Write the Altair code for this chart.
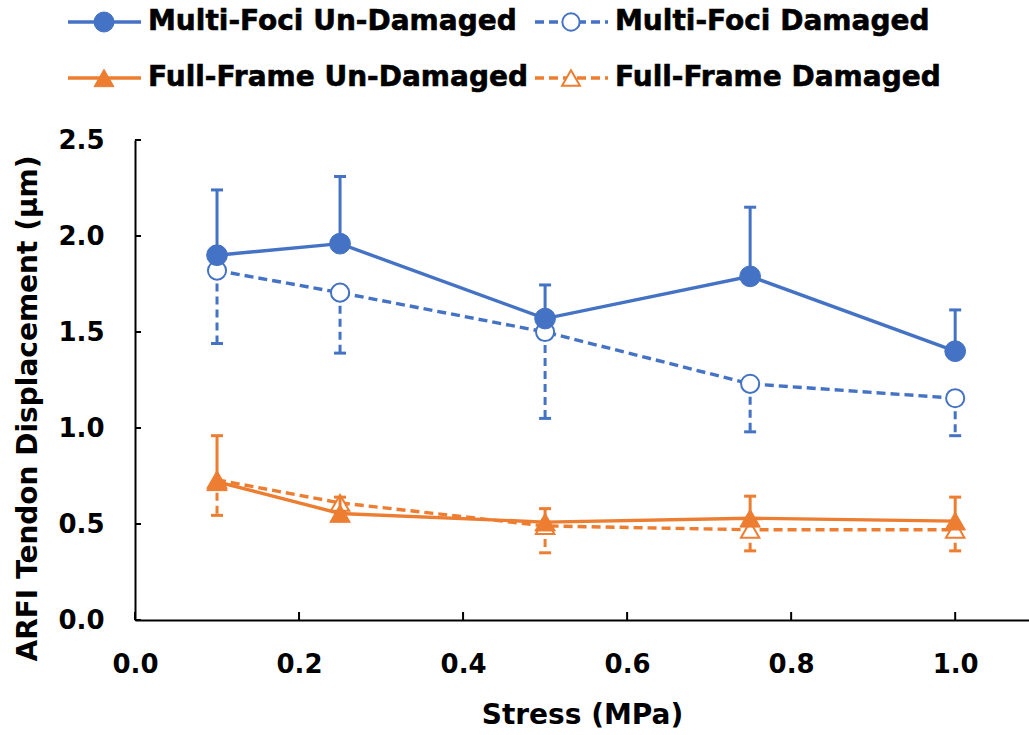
import altair as alt
import pandas as pd

# ---------------- data ----------------
stress = [0.1, 0.25, 0.5, 0.75, 1.0]

mf_und = [1.90, 1.96, 1.57, 1.79, 1.40]
mf_und_hi = [2.24, 2.31, 1.745, 2.15, 1.615]

mf_dam = [1.82, 1.705, 1.50, 1.23, 1.155]
mf_dam_lo = [1.44, 1.39, 1.05, 0.98, 0.96]

ff_und = [0.72, 0.555, 0.51, 0.53, 0.515]
ff_und_hi = [0.96, 0.64, 0.58, 0.645, 0.64]

ff_dam = [0.73, 0.61, 0.49, 0.47, 0.47]
ff_dam_lo = [0.545, 0.56, 0.35, 0.36, 0.36]

series_names = ["Multi-Foci Un-Damaged", "Multi-Foci Damaged",
                "Full-Frame Un-Damaged", "Full-Frame Damaged"]
x_ticks = [0.0, 0.2, 0.4, 0.6, 0.8, 1.0]
y_ticks = [0.0, 0.5, 1.0, 1.5, 2.0, 2.5]

x_title = "Stress (MPa)"
y_title = "ARFI Tendon Displacement (μm)"

# ---------------- styles ----------------
BLUE = "#4472C4"
ORANGE = "#ED7D31"
FONT = "DejaVu Sans"
W, H = 894, 480

styles = {
    "Multi-Foci Un-Damaged": dict(color=BLUE, dash=None, shape="circle", filled=True),
    "Multi-Foci Damaged": dict(color=BLUE, dash=[9, 5], shape="circle", filled=False),
    "Full-Frame Un-Damaged": dict(color=ORANGE, dash=None, shape="triangle-up", filled=True),
    "Full-Frame Damaged": dict(color=ORANGE, dash=[9, 5], shape="triangle-up", filled=False),
}

values = {
    "Multi-Foci Un-Damaged": (mf_und, mf_und_hi),
    "Multi-Foci Damaged": (mf_dam, mf_dam_lo),
    "Full-Frame Un-Damaged": (ff_und, ff_und_hi),
    "Full-Frame Damaged": (ff_dam, ff_dam_lo),
}

x_axis = alt.Axis(values=x_ticks, format=".1f", ticks=False, labelPadding=31,
                  labelFont=FONT, labelFontWeight="bold", labelFontSize=26,
                  labelColor="black", labelFlush=False, labelOverlap=False,
                  domainColor="black", domainWidth=2, grid=False,
                  title=x_title, titleFont=FONT, titleFontWeight="bold",
                  titleFontSize=28, titleColor="black", titleY=103,
                  titleBaseline="alphabetic")
y_axis = alt.Axis(values=y_ticks, format=".1f", ticks=False, labelPadding=31,
                  labelFont=FONT, labelFontWeight="bold", labelFontSize=26,
                  labelColor="black", labelOverlap=False,
                  domainColor="black", domainWidth=2, grid=False,
                  title=y_title, titleFont=FONT, titleFontWeight="bold",
                  titleFontSize=28, titleColor="black", titleAngle=270,
                  titleX=-99, titleY=268, titleBaseline="alphabetic",
                  titleAlign="center")

xs = alt.Scale(domain=[0, 1.09], nice=False, zero=False)
ys = alt.Scale(domain=[0, 2.5], nice=False)


def X(field):
    return alt.X(field, type="quantitative", scale=xs, axis=x_axis)


def Y(field):
    return alt.Y(field, type="quantitative", scale=ys, axis=y_axis)


layers = []

# inside tick marks
xt = pd.DataFrame({"v": x_ticks})
yt = pd.DataFrame({"v": y_ticks})
layers.append(alt.Chart(xt).mark_rule(color="black", strokeWidth=2).encode(
    x=X("v"), y=alt.value(H), y2=alt.value(H - 8)))
layers.append(alt.Chart(yt).mark_rule(color="black", strokeWidth=2).encode(
    y=Y("v"), x=alt.value(0), x2=alt.value(6)))

draw_order = ["Multi-Foci Damaged", "Multi-Foci Un-Damaged",
              "Full-Frame Damaged", "Full-Frame Un-Damaged"]

for name in draw_order:
    st = styles[name]
    v, e = values[name]
    df = pd.DataFrame({"stress": stress, "val": v, "err": e})
    dash_kw = {"strokeDash": st["dash"]} if st["dash"] else {}
    # error bar stem
    layers.append(alt.Chart(df).mark_rule(color=st["color"], strokeWidth=3,
                                          **({"strokeDash": [8, 5]} if st["dash"] else {})).encode(
        x=X("stress"), y=Y("val"), y2="err:Q"))
    # error bar cap
    layers.append(alt.Chart(df).mark_tick(color=st["color"], orient="horizontal",
                                          size=12, thickness=3, opacity=1).encode(
        x=X("stress"), y=Y("err")))
    # line
    layers.append(alt.Chart(df).mark_line(color=st["color"], strokeWidth=3.4,
                                          **dash_kw).encode(
        x=X("stress"), y=Y("val")))
    # markers
    if st["filled"]:
        pt = alt.Chart(df).mark_point(shape=st["shape"], filled=True, fill=st["color"],
                                      stroke=st["color"], strokeWidth=1, opacity=1,
                                      size=430 if st["shape"] == "circle" else 420)
    else:
        pt = alt.Chart(df).mark_point(shape=st["shape"], filled=True, fill="white",
                                      stroke=st["color"], strokeWidth=2, opacity=1,
                                      size=330 if st["shape"] == "circle" else 340)
    layers.append(pt.encode(x=X("stress"), y=Y("val")))

# ---------------- legend (drawn above the plot) ----------------
col_x = [-67, 400]
row_y = [-118, -62]
for i, name in enumerate(series_names):
    st = styles[name]
    cx = col_x[i % 2]
    cy = row_y[i // 2]
    one = pd.DataFrame({"label": [name]})
    dash_kw = {"strokeDash": st["dash"]} if st["dash"] else {}
    layers.append(alt.Chart(one).mark_rule(color=st["color"], strokeWidth=3.4,
                                           **dash_kw).encode(
        x=alt.value(cx), x2=alt.value(cx + 73), y=alt.value(cy)))
    if st["filled"]:
        lp = alt.Chart(one).mark_point(shape=st["shape"], filled=True, fill=st["color"],
                                       stroke=st["color"], strokeWidth=1, opacity=1,
                                       size=400)
    else:
        lp = alt.Chart(one).mark_point(shape=st["shape"], filled=True, fill="white",
                                       stroke=st["color"], strokeWidth=2, opacity=1,
                                       size=300 if st["shape"] == "circle" else 320)
    layers.append(lp.encode(x=alt.value(cx + 36), y=alt.value(cy)))
    layers.append(alt.Chart(one).mark_text(align="left", baseline="middle", font=FONT,
                                           fontWeight="bold", fontSize=28,
                                           color="black", stroke="black",
                                           strokeWidth=0.6).encode(
        x=alt.value(cx + 80), y=alt.value(cy), text="label:N"))

chart = alt.layer(*layers).properties(
    width=W, height=H,
    padding={"left": 135, "top": 140, "right": 0, "bottom": 115},
    autosize=alt.AutoSizeParams(type="none"),
    background="white",
).configure_view(stroke=None)

chart.save("out.html", embed_options={"renderer": "svg", "actions": False})
